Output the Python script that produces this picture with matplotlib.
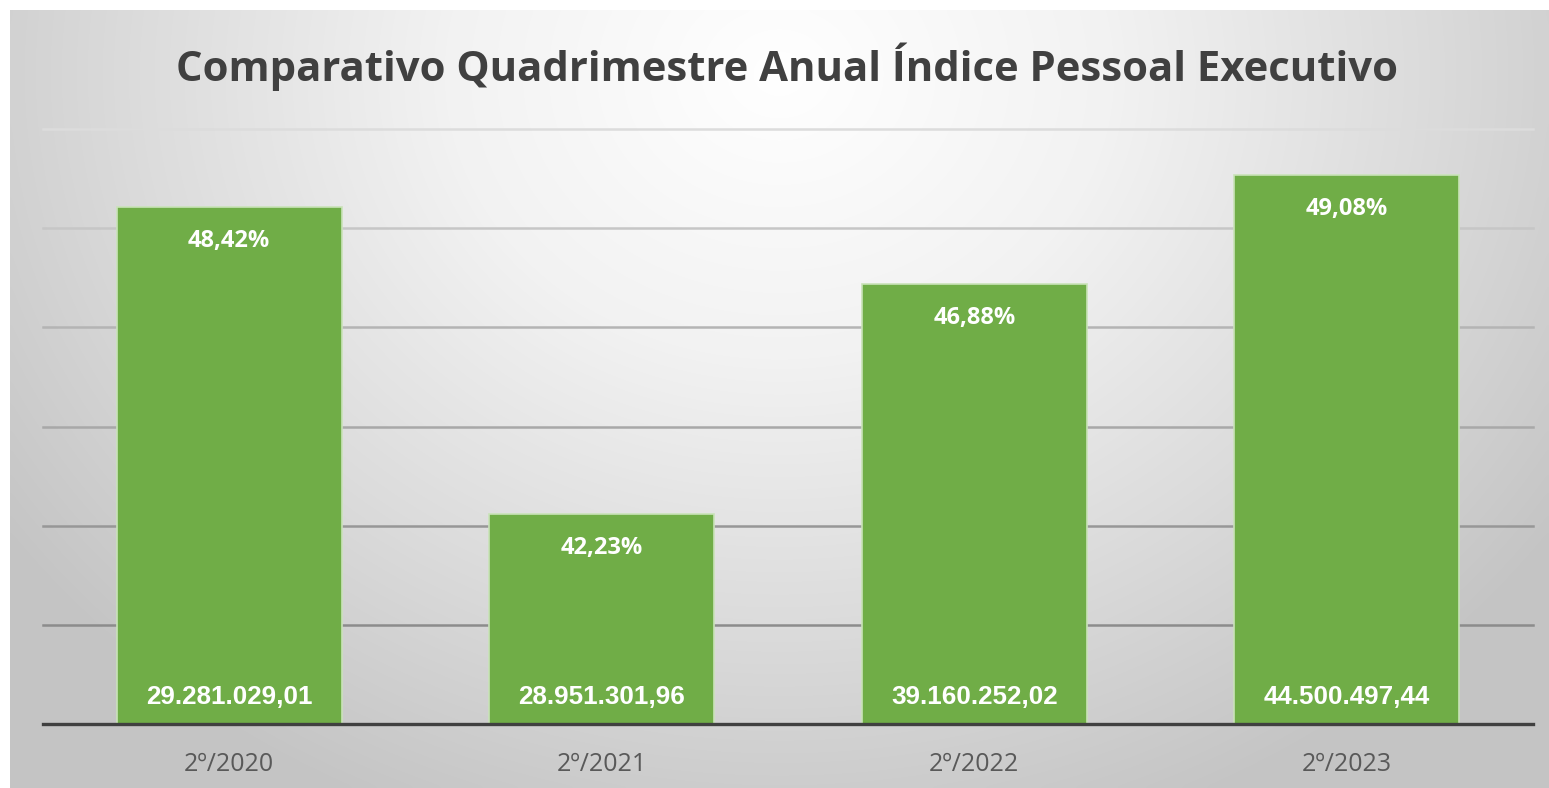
import numpy as np
import matplotlib
matplotlib.use("Agg")
import matplotlib.pyplot as plt
from matplotlib.colors import LinearSegmentedColormap

# ---- data ----
categories = ["2º/2020", "2º/2021", "2º/2022", "2º/2023"]
percent_values = [48.42, 42.23, 46.88, 49.08]
percent_labels = ["48,42%", "42,23%", "46,88%", "49,08%"]
money_labels = ["29.281.029,01", "28.951.301,96", "39.160.252,02", "44.500.497,44"]
y_min, y_max, y_step = 38, 50, 2
title = "Comparativo Quadrimestre Anual Índice Pessoal Executivo"

W, H = 1549, 788
fig = plt.figure(figsize=(W / 100, H / 100), dpi=100)
fig.patch.set_facecolor("white")

# ---- radial gradient background ----
bg = fig.add_axes([10 / W, 0, 1 - 10 / W, 1 - 10 / H])
bg.set_axis_off()
nx, ny = 400, 200
xx, yy = np.meshgrid(np.linspace(0, 1, nx), np.linspace(0, 1, ny))
cx, cy = 0.5, 0.08
r = np.sqrt(((xx - cx) / 0.62) ** 2 + ((yy - cy) / 1.05) ** 2)
r = np.clip(r, 0, 1)
cmap = LinearSegmentedColormap.from_list(
    "bg", [(0, "#ffffff"), (0.35, "#f2f2f2"), (0.7, "#dadada"), (1.0, "#c4c4c4")])
bg.imshow(r, cmap=cmap, vmin=0, vmax=1, aspect="auto", extent=[0, 1, 1, 0],
          interpolation="bicubic")
bg.set_xlim(0, 1)
bg.set_ylim(1, 0)

# ---- main axes ----
ax = fig.add_axes([43 / W, 1 - 724 / H, (1533 - 43) / W, (724 - 129) / H])
ax.set_facecolor("none")
ax.set_xlim(-0.5, len(categories) - 0.5)
ax.set_ylim(y_min, y_max)

grid_levels = np.arange(y_min + y_step, y_max + 0.001, y_step)
grid_colors = ["#8c8c8c", "#979797", "#a8a8a8", "#b4b4b4", "#c6c6c6", "#dcdcdc"]
for lvl, col in zip(grid_levels, grid_colors):
    ax.axhline(lvl, color=col, lw=1.8, zorder=1, clip_on=False)

x = np.arange(len(categories))
bars = ax.bar(x, np.array(percent_values) - y_min, bottom=y_min, width=0.604,
              color="#70ad47", edgecolor="#c9e3b8", linewidth=1.2, zorder=2)

for xi, v, pl, ml in zip(x, percent_values, percent_labels, money_labels):
    ax.annotate(pl, (xi, v), xytext=(0, -34), textcoords="offset pixels",
                ha="center", va="center", color="white", fontsize=17,
                fontweight="bold", family="Open Sans", zorder=3)
    ax.annotate(ml, (xi, y_min), xytext=(0, 27), textcoords="offset pixels",
                ha="center", va="center", color="white", fontsize=18.7,
                fontweight="bold", family="Liberation Sans", zorder=3)

ax.axhline(y_min, color="#404040", lw=2.4, zorder=4, clip_on=False)
for s in ax.spines.values():
    s.set_visible(False)
ax.set_yticks([])
ax.set_xticks(x)
ax.set_xticklabels(categories, fontsize=18, color="#595959", family="Open Sans")
ax.tick_params(axis="x", length=0, pad=20)

fig.text(787 / W, 1 - 67 / H, title, ha="center", va="center", fontsize=30.2,
         fontweight="bold", color="#404040", family="Open Sans")

fig.savefig("out.png", dpi=100)
